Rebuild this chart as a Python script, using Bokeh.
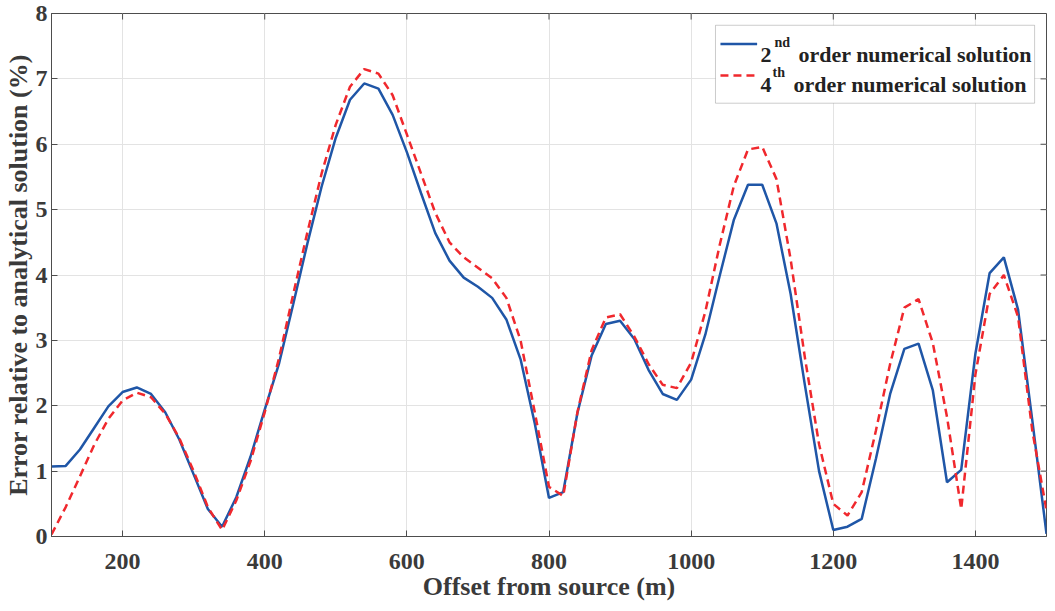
from bokeh.plotting import figure
from bokeh.models import Range1d, FixedTicker, Label, BoxAnnotation, Arrow
from bokeh.embed import file_html
from bokeh.resources import INLINE

offset = [100, 120, 140, 160, 180, 200, 220, 240, 260, 280, 300, 320, 340, 360, 380,
          400, 420, 440, 460, 480, 500, 520, 540, 560, 580, 600, 620, 640, 660, 680,
          700, 720, 740, 760, 780, 800, 820, 840, 860, 880, 900, 920, 940, 960, 980,
          1000, 1020, 1040, 1060, 1080, 1100, 1120, 1140, 1160, 1180, 1200, 1220, 1240,
          1260, 1280, 1300, 1320, 1340, 1360, 1380, 1400, 1420, 1440, 1460, 1480, 1500]

err_2nd = [1.07, 1.08, 1.33, 1.66, 1.99, 2.21, 2.28, 2.18, 1.90, 1.48, 0.95, 0.42, 0.15,
           0.60, 1.22, 1.94, 2.64, 3.55, 4.48, 5.35, 6.10, 6.68, 6.93, 6.85, 6.45, 5.88,
           5.25, 4.64, 4.22, 3.96, 3.82, 3.65, 3.32, 2.71, 1.73, 0.59, 0.68, 1.89, 2.77,
           3.25, 3.30, 3.02, 2.55, 2.18, 2.09, 2.40, 3.09, 3.98, 4.84, 5.38, 5.38, 4.79,
           3.71, 2.32, 1.00, 0.10, 0.15, 0.27, 1.19, 2.18, 2.87, 2.95, 2.24, 0.83, 1.02,
           2.80, 4.03, 4.27, 3.47, 1.78, 0.04]

err_4th = [0.03, 0.45, 0.92, 1.40, 1.80, 2.08, 2.20, 2.13, 1.88, 1.50, 1.00, 0.45, 0.10,
           0.55, 1.15, 1.90, 2.72, 3.70, 4.65, 5.55, 6.30, 6.88, 7.15, 7.08, 6.75, 6.15,
           5.55, 4.95, 4.50, 4.27, 4.11, 3.95, 3.65, 3.00, 1.90, 0.76, 0.62, 1.90, 2.85,
           3.35, 3.40, 3.06, 2.64, 2.32, 2.27, 2.66, 3.44, 4.45, 5.36, 5.92, 5.96, 5.47,
           4.24, 2.74, 1.41, 0.50, 0.32, 0.68, 1.62, 2.64, 3.50, 3.63, 2.96, 1.83, 0.42,
           2.48, 3.71, 4.00, 3.36, 1.62, 0.40]

x_ticks = [200, 400, 600, 800, 1000, 1200, 1400]
y_ticks = [0, 1, 2, 3, 4, 5, 6, 7, 8]

FONT = "Liberation Serif"
AX = "#4d4d4d"
TXT = "#3a3a3a"
X0, X1, Y0, Y1 = 100, 1500, 0, 8
FW, FH = 1004.0, 520.0          # approximate frame size in pixels
px = (X1 - X0) / FW
py = (Y1 - Y0) / FH

p = figure(width=1047, height=603, output_backend="svg", toolbar_location=None,
           x_range=Range1d(X0, X1), y_range=Range1d(Y0, Y1),
           min_border_left=42, min_border_right=1, min_border_top=13, min_border_bottom=0)
p.outline_line_color = AX
p.outline_line_width = 1
p.background_fill_color = "white"
p.border_fill_color = "white"

for ax, ticks in ((p.xaxis[0], x_ticks), (p.yaxis[0], y_ticks)):
    ax.ticker = FixedTicker(ticks=ticks)
    ax.major_tick_in = 6
    ax.major_tick_out = 0
    ax.minor_tick_line_color = None
    ax.axis_line_color = AX
    ax.major_tick_line_color = AX
    ax.major_label_text_font = FONT
    ax.major_label_text_font_style = "bold"
    ax.major_label_text_font_size = "24px"
    ax.major_label_text_color = TXT
    ax.axis_label_text_font = FONT
    ax.axis_label_text_font_style = "bold"
    ax.axis_label_text_font_size = "26px"
    ax.axis_label_text_color = TXT

p.xaxis.axis_label = "Offset from source (m)"
p.yaxis.axis_label = "Error relative to analytical solution (%)"
p.xaxis.major_label_standoff = 17
p.xaxis.axis_label_standoff = 0
p.yaxis.major_label_standoff = 4
p.yaxis.axis_label_standoff = 0

p.xgrid.ticker = FixedTicker(ticks=x_ticks)
p.ygrid.ticker = FixedTicker(ticks=y_ticks)
p.grid.grid_line_color = "#e3e3e3"
p.grid.grid_line_width = 1

# inward ticks on the top and right edges of the box (MATLAB "box on")
p.segment(x0=x_ticks, x1=x_ticks, y0=[Y1] * len(x_ticks), y1=[Y1 - 6 * py] * len(x_ticks),
          line_color=AX, line_width=1)
p.segment(x0=[X1] * len(y_ticks), x1=[X1 - 6 * px] * len(y_ticks), y0=y_ticks, y1=y_ticks,
          line_color=AX, line_width=1)

BLUE = "#1f56a7"
RED = "#f0282d"

p.line(offset, err_2nd, line_color=BLUE, line_width=2.5)
p.line(offset, err_4th, line_color=RED, line_width=2.5, line_dash="8 5")

# legend box (north-east), inner items offset in screen pixels from its top-left corner
R = X1 - 12 * px
L = R - 322 * px
T = Y1 - 11.7 * py
B = T - 77.5 * py
p.add_layout(BoxAnnotation(left=L, right=R, bottom=B, top=T,
                           fill_color="white", fill_alpha=1.0,
                           line_color="#555555", line_width=1))
p.add_layout(Arrow(end=None, x_start=L + 5 * px, y_start=T - 18.6 * py,
                   x_end=L + 42 * px, y_end=T - 18.6 * py, line_color=BLUE, line_width=2.5))
p.add_layout(Arrow(end=None, x_start=L + 5 * px, y_start=T - 50 * py,
                   x_end=L + 42 * px, y_end=T - 50 * py, line_color=RED, line_width=2.5,
                   line_dash="8 5"))

rows = [("2", "nd", 29.3, 17.3, 59, 83), ("4", "th", 59.3, 47.3, 57, 78)]
for base, sup, yb, ys, xs, xo in rows:
    p.add_layout(Label(x=L, y=T, x_offset=45, y_offset=-yb, text=base, text_font=FONT,
                       text_font_style="bold", text_font_size="22px", text_color="#222222",
                       text_baseline="alphabetic", text_align="left"))
    p.add_layout(Label(x=L, y=T, x_offset=xs, y_offset=-ys, text=sup, text_font=FONT,
                       text_font_style="bold", text_font_size="14px", text_color="#222222",
                       text_baseline="alphabetic", text_align="left"))
    p.add_layout(Label(x=L, y=T, x_offset=xo, y_offset=-yb, text="order numerical solution",
                       text_font=FONT, text_font_style="bold", text_font_size="22px",
                       text_color="#222222", text_baseline="alphabetic", text_align="left"))

open("out.html", "w").write(file_html(p, INLINE))
